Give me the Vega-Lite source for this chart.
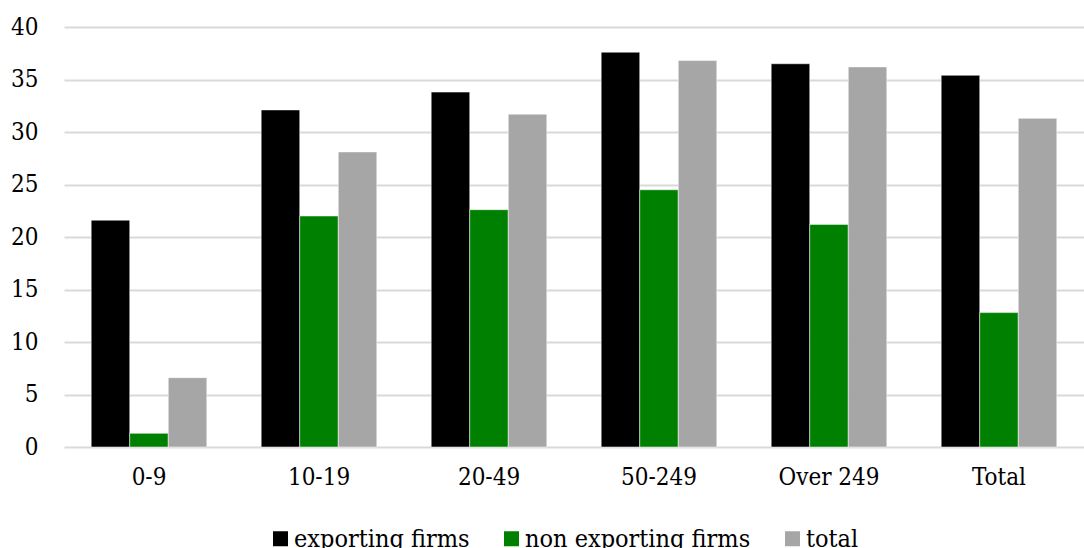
{
  "$schema": "https://vega.github.io/schema/vega-lite/v6.json",
  "width": 1020,
  "height": 420,
  "autosize": {"type": "none"},
  "padding": {"left": 64, "top": 27, "right": 0, "bottom": 101},
  "background": "white",
  "config": {
    "view": {"stroke": null},
    "font": "DejaVu Serif Condensed"
  },
  "data": {
    "values": [
      {"size": "0-9", "series": "exporting firms", "value": 21.6},
      {"size": "0-9", "series": "non exporting firms", "value": 1.3},
      {"size": "0-9", "series": "total", "value": 6.6},
      {"size": "10-19", "series": "exporting firms", "value": 32.1},
      {"size": "10-19", "series": "non exporting firms", "value": 22.0},
      {"size": "10-19", "series": "total", "value": 28.1},
      {"size": "20-49", "series": "exporting firms", "value": 33.8},
      {"size": "20-49", "series": "non exporting firms", "value": 22.6},
      {"size": "20-49", "series": "total", "value": 31.7},
      {"size": "50-249", "series": "exporting firms", "value": 37.6},
      {"size": "50-249", "series": "non exporting firms", "value": 24.5},
      {"size": "50-249", "series": "total", "value": 36.8},
      {"size": "Over 249", "series": "exporting firms", "value": 36.5},
      {"size": "Over 249", "series": "non exporting firms", "value": 21.2},
      {"size": "Over 249", "series": "total", "value": 36.2},
      {"size": "Total", "series": "exporting firms", "value": 35.4},
      {"size": "Total", "series": "non exporting firms", "value": 12.8},
      {"size": "Total", "series": "total", "value": 31.3}
    ]
  },
  "mark": {"type": "bar", "stroke": "#ffffff", "strokeWidth": 0.5},
  "encoding": {
    "x": {
      "field": "size",
      "type": "nominal",
      "sort": null,
      "scale": {"paddingInner": 0.32, "paddingOuter": 0.16},
      "axis": {
        "title": null,
        "labelAngle": 0,
        "ticks": false,
        "domain": false,
        "labelFontSize": 24,
        "labelColor": "#000000",
        "labelPadding": 18
      }
    },
    "xOffset": {"field": "series", "type": "nominal", "sort": null},
    "y": {
      "field": "value",
      "type": "quantitative",
      "scale": {"domain": [0, 40]},
      "axis": {
        "title": null,
        "values": [0, 5, 10, 15, 20, 25, 30, 35, 40],
        "ticks": false,
        "domain": false,
        "grid": true,
        "gridColor": "#d9d9d9",
        "gridWidth": 2,
        "labelFontSize": 24,
        "labelColor": "#000000",
        "labelPadding": 26
      }
    },
    "color": {
      "field": "series",
      "type": "nominal",
      "sort": null,
      "scale": {
        "domain": ["exporting firms", "non exporting firms", "total"],
        "range": ["#000000", "#008000", "#a6a6a6"]
      },
      "legend": {
        "title": null,
        "orient": "none",
        "direction": "horizontal",
        "legendX": 204,
        "legendY": 499,
        "symbolType": "square",
        "symbolSize": 225,
        "symbolStrokeWidth": 0,
        "labelFontSize": 25,
        "labelLimit": 0,
        "labelColor": "#000000",
        "columnPadding": 29,
        "labelOffset": 1
      }
    }
  }
}
